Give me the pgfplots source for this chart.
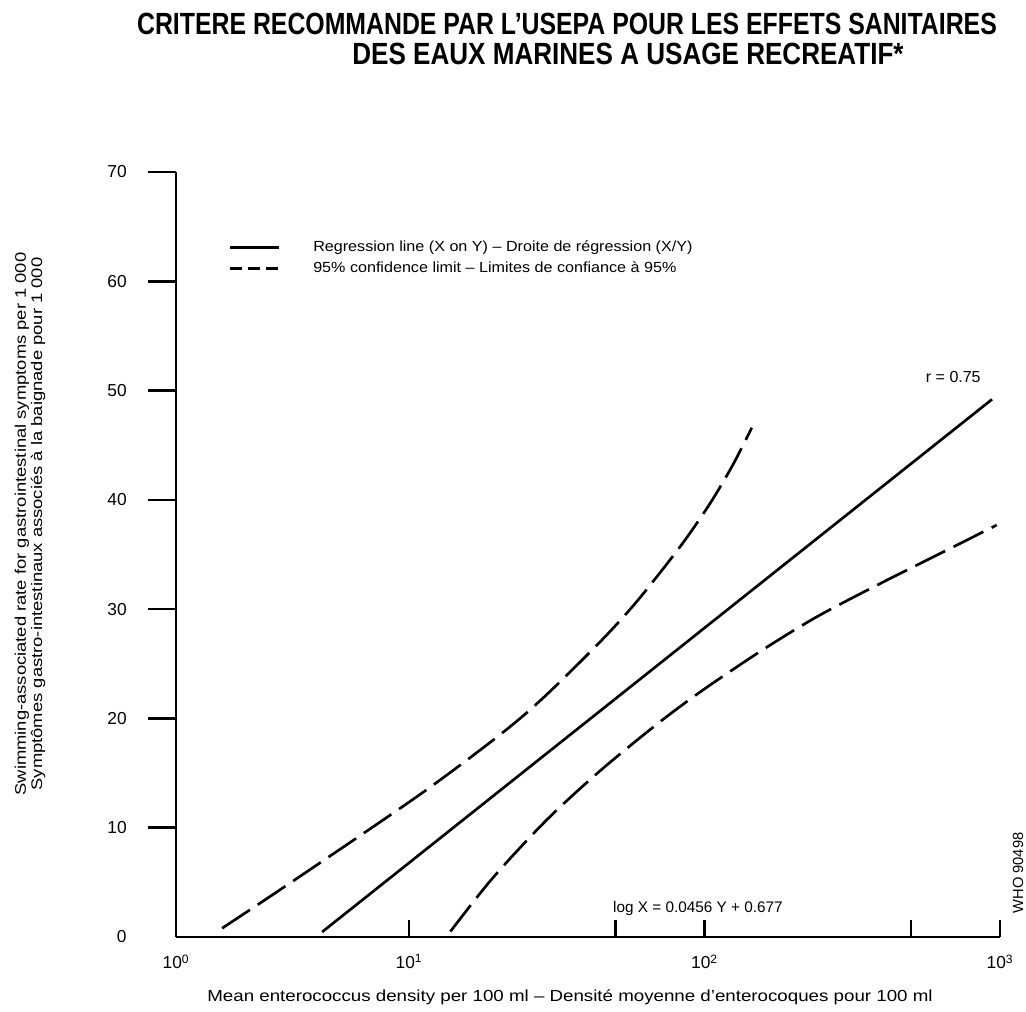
\documentclass[border=0pt]{standalone}
\usepackage{pgfplots}
\pgfplotsset{compat=1.18}
\usepackage{fontspec}
\setmainfont{Liberation Sans}
\usepackage{graphicx}
\newcommand{\fs}[1]{\fontsize{#1}{#1}\selectfont}
\begin{document}
\begin{tikzpicture}
\begin{scope}[x=0.75pt,y=-0.75pt]
\useasboundingbox (0,0) rectangle (1026,1012);
\node[anchor=base] at (567,35) {\fs{23}\bfseries\scalebox{0.81}[1]{CRITERE RECOMMANDE PAR L'USEPA POUR LES EFFETS SANITAIRES}};
\node[anchor=base] at (628,65) {\fs{23}\bfseries\scalebox{0.85}[1]{DES EAUX MARINES A USAGE RECREATIF*}};
\node[rotate=90] at (22,524) {\fs{11.5}\scalebox{1.2}[1]{Swimming-associated rate for gastrointestinal symptoms per 1~000}};
\node[rotate=90] at (38,524) {\fs{11.5}\scalebox{1.2}[1]{Symptômes gastro-intestinaux associés à la baignade pour 1~000}};
\node at (570,997) {\fs{12}\scalebox{1.17}[1]{Mean enterococcus density per 100 ml -- Densité moyenne d'enterocoques pour 100 ml}};
\node[rotate=90] at (1018,873) {\fs{11}WHO 90498};
\end{scope}

\begin{axis}[
  at={(132pt,-702.75pt)}, anchor=south west,
  scale only axis, width=618pt, height=573.75pt,
  xmode=log, xmin=1.627, xmax=1000, ymin=0, ymax=70,
  axis lines*=left,
  axis line style={line width=2pt, black},
  xtick=\empty, xminorticks=false, yminorticks=false,
  ytick={10,20,...,70},
  ytick align=outside, major tick length=21pt,
  tick style={line width=2pt, black},
  /pgf/number format/assume math mode=true,
  yticklabel style={font=\fs{13}, anchor=east, inner sep=0pt, xshift=-16pt},
  clip=false,
  legend style={draw=none, fill=none, at={(0.0631,0.8876)}, anchor=west,
    inner sep=0pt, nodes={inner sep=0pt}, row sep=6pt, column sep=24.75pt,
    font=\fs{11}},
  legend cell align=left,
  legend image code/.code={\draw[#1] (0pt,0pt) -- (37pt,0pt);},
]
\addlegendimage{black, line width=2pt}
\addlegendentry{\scalebox{1.1}[1]{Regression line (X on Y) -- Droite de régression (X/Y)}}
\addlegendimage{black, line width=2pt, dash pattern=on 9.5pt off 4pt}
\addlegendentry{\scalebox{1.1}[1]{95\% confidence limit -- Limites de confiance à 95\%}}

% regression line
\addplot[black, line width=2pt, forget plot] coordinates {(5.08,0.46) (940,49.2)};
% upper 95% limit (left dashed)
\addplot[black, line width=2pt, dash pattern=on 25pt off 7pt, smooth, forget plot] coordinates {
(2.33,0.8) (4.17,5.35) (10.9,13.05) (20.3,18.5) (28.5,21.9) (44.3,27.0)
(59.0,30.7) (82.6,35.7) (104,39.6) (124.7,43.2) (144.5,46.6)};
% lower 95% limit (right dashed)
\addplot[black, line width=2pt, dash pattern=on 25pt off 7pt, smooth, forget plot] coordinates {
(13.8,0.5) (19.2,5.4) (29.2,10.7) (44.3,15.2) (70,19.6) (100,22.7)
(160,26.4) (240,29.3) (384,32.2) (732,36.0) (975,37.7)};

\node[font=\fs{12}] at (axis cs:695,51.2) {r = 0.75};
\node[font=\fs{11.5}] at (axis cs:95,2.6) {log X = 0.0456 Y + 0.677};
\node[font=\fs{13}, anchor=east, inner sep=0pt] at (axis cs:1.627,0) [xshift=-37pt] {0};
\end{axis}

\begin{axis}[
  at={(132pt,-702.75pt)}, anchor=south west,
  scale only axis, width=618pt, height=573.75pt,
  xmode=log, xmin=1.627, xmax=1000, ymin=0, ymax=70,
  axis x line*=bottom, hide y axis,
  axis line style={draw=none},
  xtick={1.627,10,50,100,500,1000},
  xticklabels={10\textsuperscript{0},10\textsuperscript{1},,10\textsuperscript{2},,10\textsuperscript{3}},
  xminorticks=false,
  xtick align=inside, major tick length=13pt,
  tick style={line width=2pt, black},
  xticklabel style={font=\fs{13}, inner sep=0pt, yshift=-13pt},
]
\end{axis}
\end{tikzpicture}
\end{document}
